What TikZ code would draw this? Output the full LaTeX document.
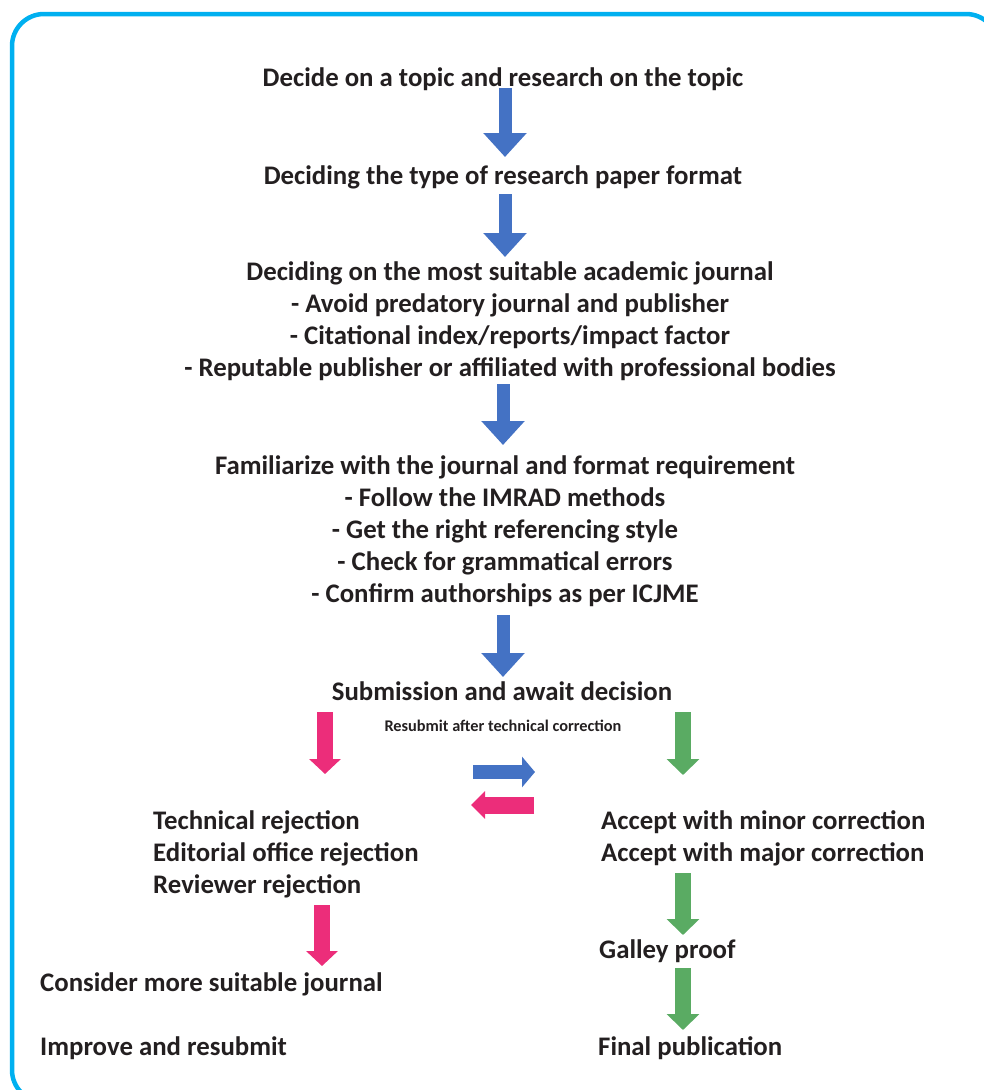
\documentclass[tikz,border=0pt]{standalone}
\usepackage{fontspec}
\setmainfont{Carlito}
\usetikzlibrary{arrows.meta}
\definecolor{framecyan}{HTML}{00B0F0}
\definecolor{arrblue}{HTML}{4472C4}
\definecolor{arrpink}{HTML}{EC2D7A}
\definecolor{arrgreen}{HTML}{5AAB63}
\definecolor{txtgray}{HTML}{231F20}

\begin{document}
\begin{tikzpicture}[%
  x=1pt, y=-1pt,
  txt/.style={font=\fontsize{26.8}{32}\selectfont\bfseries, text=txtgray,
    inner sep=0pt, align=center, anchor=base},
  lefttxt/.style={txt, align=left, anchor=base west},
  smalltxt/.style={txt, font=\fontsize{16.3}{18}\selectfont\bfseries},
  bluearr/.style={arrblue, line width=13pt, -{Triangle[width=42pt,length=24pt]}},
  pinkarr/.style={arrpink, line width=16pt, -{Triangle[width=31pt,length=15pt]}},
  greenarr/.style={arrgreen, line width=16pt, -{Triangle[width=32pt,length=16pt]}}]
\useasboundingbox (0,0) rectangle (984,1090);
\clip (0,0) rectangle (984,1090);
\draw[framecyan, line width=4.5pt, rounded corners=32pt] (12,14) rectangle (998,1102);

% main column (multi-line nodes sit on their last baseline)
\node[txt] (topic) at (503,86) {Decide on a topic and research on the topic};
\node[txt] (format) at (503,184) {Deciding the type of research paper format};
\node[txt] (journal) at (510,376) {Deciding on the most suitable academic journal\\
  - Avoid predatory journal and publisher\\
  - Citational index/reports/impact factor\\
  - Reputable publisher or affiliated with professional bodies};
\node[txt] (familiar) at (505,602) {Familiarize with the journal and format requirement\\
  - Follow the IMRAD methods\\
  - Get the right referencing style\\
  - Check for grammatical errors\\
  - Confirm authorships as per ICJME};
\node[txt] (submit) at (502,700) {Submission and await decision};
\node[smalltxt] (resub) at (503,731) {Resubmit after technical correction};

% rejection side
\node[lefttxt] (reject) at (153,893) {Technical rejection\\
  Editorial office rejection\\
  Reviewer rejection};
\node[lefttxt] (consider) at (40,991) {Consider more suitable journal};
\node[lefttxt] (improve) at (40,1055) {Improve and resubmit};

% acceptance side
\node[lefttxt] (accept) at (601,861) {Accept with minor correction\\
  Accept with major correction};
\node[lefttxt] (galley) at (599,958) {Galley proof};
\node[lefttxt] (final) at (598,1055) {Final publication};

\coordinate (b1) at (505,88);  \coordinate (b1e) at (505,157);
\coordinate (b2) at (505,194); \coordinate (b2e) at (505,257);
\coordinate (b3) at (503,384); \coordinate (b3e) at (503,445);
\coordinate (b4) at (503,615); \coordinate (b4e) at (503,677);
\draw[bluearr] (b1) -- (b1e);
\draw[bluearr] (b2) -- (b2e);
\draw[bluearr] (b3) -- (b3e);
\draw[bluearr] (b4) -- (b4e);

\coordinate (p1) at (325,712); \coordinate (p1e) at (325,774);
\coordinate (p2) at (322,905); \coordinate (p2e) at (322,966);
\draw[pinkarr] (p1) -- (p1e);
\draw[pinkarr] (p2) -- (p2e);

\coordinate (g1) at (683,712); \coordinate (g1e) at (683,775);
\coordinate (g2) at (683,873); \coordinate (g2e) at (683,935);
\coordinate (g3) at (683,968); \coordinate (g3e) at (683,1030);
\draw[greenarr] (g1) -- (g1e);
\draw[greenarr] (g2) -- (g2e);
\draw[greenarr] (g3) -- (g3e);

% back and forth
\coordinate (r1) at (473,772); \coordinate (r1e) at (535,772);
\coordinate (l1) at (534,805); \coordinate (l1e) at (471,805);
\draw[arrblue, line width=14pt, -{Triangle[width=30pt,length=13pt]}] (r1) -- (r1e);
\draw[arrpink, line width=17pt, -{Triangle[width=27pt,length=14pt]}] (l1) -- (l1e);
\end{tikzpicture}
\end{document}
